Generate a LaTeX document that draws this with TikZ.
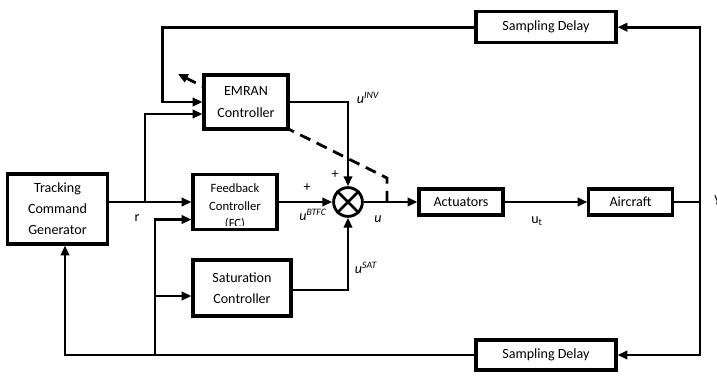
\documentclass[tikz,border=0pt]{standalone}
\usepackage{fontspec}
\setmainfont{Carlito}
\usetikzlibrary{arrows.meta}

\begin{document}
\begin{tikzpicture}[
    >={Triangle[length=7pt,width=6pt]},
    bloque/.style={draw, line width=2.2pt, fill=white, align=center, inner sep=0pt, font=\fontsize{10}{15}\selectfont},
    linea/.style={line width=2pt},
    etiq/.style={font=\fontsize{10}{12}\selectfont}
]
    \useasboundingbox (0,0) rectangle (17.925,9.4);
    % Lazo de adaptacion (discontinuo), queda debajo de los bloques
    \coordinate (adapt0) at (9.675,4.35);
    \coordinate (adapt1) at (9.675,4.95);
    \coordinate (adapt2) at (4.45,7.55);
    \draw[linea, dash pattern=on 8pt off 5pt, ->] (adapt0) -- (adapt1) -- (adapt2);
    % Bloques
    \node[bloque, minimum width=2.5cm, minimum height=1.75cm] (tcg) at (1.4375,4.175) {Tracking\\Command\\Generator};
    \node[bloque, minimum width=2.1cm, minimum height=1.35cm] (emran) at (6.15,6.85) {EMRAN\\Controller};
    \node[bloque, minimum width=2.1cm, minimum height=1.38cm] (fc) at (5.875,4.35) {};
    \node[bloque, minimum width=2.45cm, minimum height=1.4cm] (sat) at (6.05,2.2) {Saturation\\Controller};
    \node[draw, circle, line width=2pt, fill=white, minimum size=0.72cm, inner sep=0pt] (suma) at (8.7,4.35) {};
    \draw[line width=2pt] (suma.north west) -- (suma.south east) (suma.north east) -- (suma.south west);
    \node[bloque, minimum width=2.1cm, minimum height=0.65cm] (act) at (11.525,4.35) {Actuators};
    \node[bloque, minimum width=2.08cm, minimum height=0.65cm] (avion) at (15.7625,4.35) {Aircraft};
    \node[bloque, minimum width=3.5cm, minimum height=0.78cm] (ret1) at (13.65,8.72) {Sampling Delay};
    \node[bloque, minimum width=3.5cm, minimum height=0.75cm] (ret2) at (13.65,0.525) {Sampling Delay};
    % Texto del FC (recortado por el borde inferior)
    \begin{scope}
        \clip ([shift={(0.05,0.13)}]fc.south west) rectangle ([shift={(-0.05,-0.05)}]fc.north east);
        \node[font=\fontsize{9}{12.5}\selectfont, align=center] (fctxt) at ([yshift=-0.12cm]fc.center) {Feedback\\Controller\\(FC)};
    \end{scope}
    % Referencia r hacia los controladores
    \coordinate (bifR) at (3.625,4.35);
    \draw[linea,->] (tcg.east |- fc.west) -- (fc.west);
    \draw[linea,->] (bifR) |- ([yshift=-0.3cm]emran.west);
    % Lazo superior (retardo) hacia EMRAN
    \draw[linea,->] (ret1.west) -| ([xshift=-1cm]emran.west) -- (emran.west);
    % Lazo inferior (retardo) hacia el generador y los controladores
    \draw[linea,->] (ret2.west) -| ([xshift=0.1875cm]tcg.south);
    \coordinate (bifB) at (3.875,0.525);
    \coordinate (bifS) at (3.875,2.0);
    \draw[linea,->] (bifB) |- ([yshift=-0.4375cm]fc.west);
    \draw[linea,->] (bifS) -- (bifS -| sat.west);
    % Entradas al sumador
    \draw[linea,->] (fc.east) -- (suma.west);
    \draw[linea,->] (emran.east) -| (suma.north);
    \draw[linea,->] ([yshift=-0.05cm]sat.east) -| (suma.south);
    % Cadena directa
    \draw[linea,->] (suma.east) -- (act.west);
    \draw[linea,->] (act) -- (avion);
    \coordinate (ysal) at (17.5,4.35);
    \draw[linea] (avion.east) -- (ysal);
    \draw[linea,->] (ysal) |- (ret1.east);
    \draw[linea,->] (ysal) |- (ret2.east);
    % Etiquetas
    \node[etiq] (lr) at (3.425,3.95) {r};
    \node[etiq] (mas1) at (7.675,4.7) {+};
    \node[etiq] (uBTFC) at (7.825,4.025) {\itshape u\textsuperscript{BTFC}};
    \node[etiq] (mas2) at (8.375,5.025) {+};
    \node[etiq] (uINV) at (9.2,6.95) {\itshape u\textsuperscript{INV}};
    \node[etiq] (uSAT) at (9.15,2.7) {\itshape u\textsuperscript{SAT}};
    \node[etiq] (uu) at (9.45,3.925) {\itshape u};
    \node[etiq] (ut) at (13.425,3.875) {u\textsubscript{t}};
    \node[etiq] (ly) at (17.94,4.4) {y};
\end{tikzpicture}
\end{document}
